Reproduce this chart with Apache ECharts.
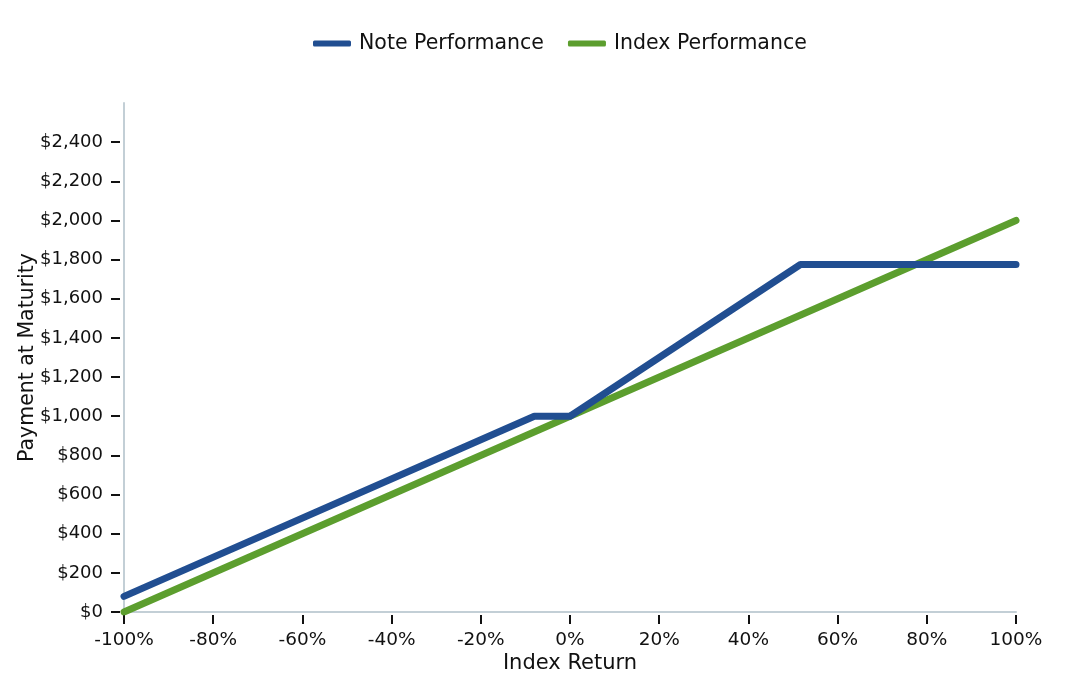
<!DOCTYPE html>
<html>
<head>
<meta charset="utf-8">
<script src="https://cdn.jsdelivr.net/npm/echarts@6/dist/echarts.min.js"></script>
<style>
  html, body { margin: 0; padding: 0; background: #fff; }
  #chart { width: 1088px; height: 688px; }
</style>
</head>
<body>
<div id="chart"></div>
<script>
// index return (%) and payment at maturity ($)
var noteReturns = [-100, -8, 0, 51.67, 100];
var noteValues = [80, 1000, 1000, 1775, 1775];
var indexReturns = [-100, 100];
var indexValues = [0, 2000];
var yTicks = [0, 200, 400, 600, 800, 1000, 1200, 1400, 1600, 1800, 2000, 2200, 2400];

var chart = echarts.init(document.getElementById('chart'));

function pairs(xs, ys) {
    return xs.map(function(x, i) { return [x, ys[i]]; });
}

var font = 'DejaVu Sans';
var axisGray = '#c3cfd6';

var option = {
    animation: false,
    legend: {
        top: 28,
        left: 308,
        itemWidth: 38,
        itemHeight: 6,
        itemGap: 24,
        textStyle: { fontFamily: font, fontSize: 20.5, color: '#111', padding: [0, 0, 0, 3] },
        data: [
            { name: 'Note Performance', icon: 'roundRect' },
            { name: 'Index Performance', icon: 'roundRect' }
        ]
    },
    grid: { left: 124, right: 72, top: 103, bottom: 76 },
    xAxis: [{
        type: 'value',
        min: -100, max: 100, interval: 20,
        offset: 3,
        name: 'Index Return',
        nameLocation: 'middle',
        nameMoveOverlap: false,
        nameGap: 38,
        nameTextStyle: { fontFamily: font, fontSize: 21, color: '#111' },
        axisLine: { show: false, onZero: false },
        axisTick: { show: true, length: 9, lineStyle: { color: '#111', width: 2 } },
        axisLabel: { formatter: '{value}%', fontFamily: font, fontSize: 18.5, color: '#111', margin: 16 },
        splitLine: { show: false }
    }, {
        type: 'value',
        min: -100, max: 100, interval: 20,
        position: 'bottom',
        axisLine: { show: true, onZero: false, lineStyle: { color: axisGray, width: 2 } },
        axisTick: { show: false },
        axisLabel: { show: false },
        splitLine: { show: false }
    }],
    yAxis: [{
        type: 'value',
        min: 0, max: 2600, interval: 200,
        offset: 4,
        name: 'Payment at Maturity',
        nameLocation: 'middle',
        nameMoveOverlap: false,
        nameGap: 82,
        nameTextStyle: { fontFamily: font, fontSize: 20.5, color: '#111' },
        axisLine: { show: false, onZero: false },
        axisTick: { show: true, length: 9, customValues: yTicks, lineStyle: { color: '#111', width: 2 } },
        axisLabel: {
            customValues: yTicks,
            fontFamily: font, fontSize: 18, color: '#111', margin: 17,
            formatter: function(v) { return '$' + v.toLocaleString('en-US'); }
        },
        splitLine: { show: false }
    }, {
        type: 'value',
        min: 0, max: 2600,
        position: 'left',
        axisLine: { show: true, onZero: false, lineStyle: { color: axisGray, width: 2 } },
        axisTick: { show: false },
        axisLabel: { show: false },
        splitLine: { show: false }
    }],
    series: [{
        name: 'Index Performance',
        type: 'line',
        data: pairs(indexReturns, indexValues),
        showSymbol: false,
        itemStyle: { color: '#5c9e2e' },
        lineStyle: { color: '#5c9e2e', width: 7, cap: 'round', join: 'round' },
        z: 2
    }, {
        name: 'Note Performance',
        type: 'line',
        data: pairs(noteReturns, noteValues),
        showSymbol: false,
        itemStyle: { color: '#214e91' },
        lineStyle: { color: '#214e91', width: 7, cap: 'round', join: 'round' },
        z: 3
    }]
};

chart.setOption(option);
</script>
</body>
</html>
